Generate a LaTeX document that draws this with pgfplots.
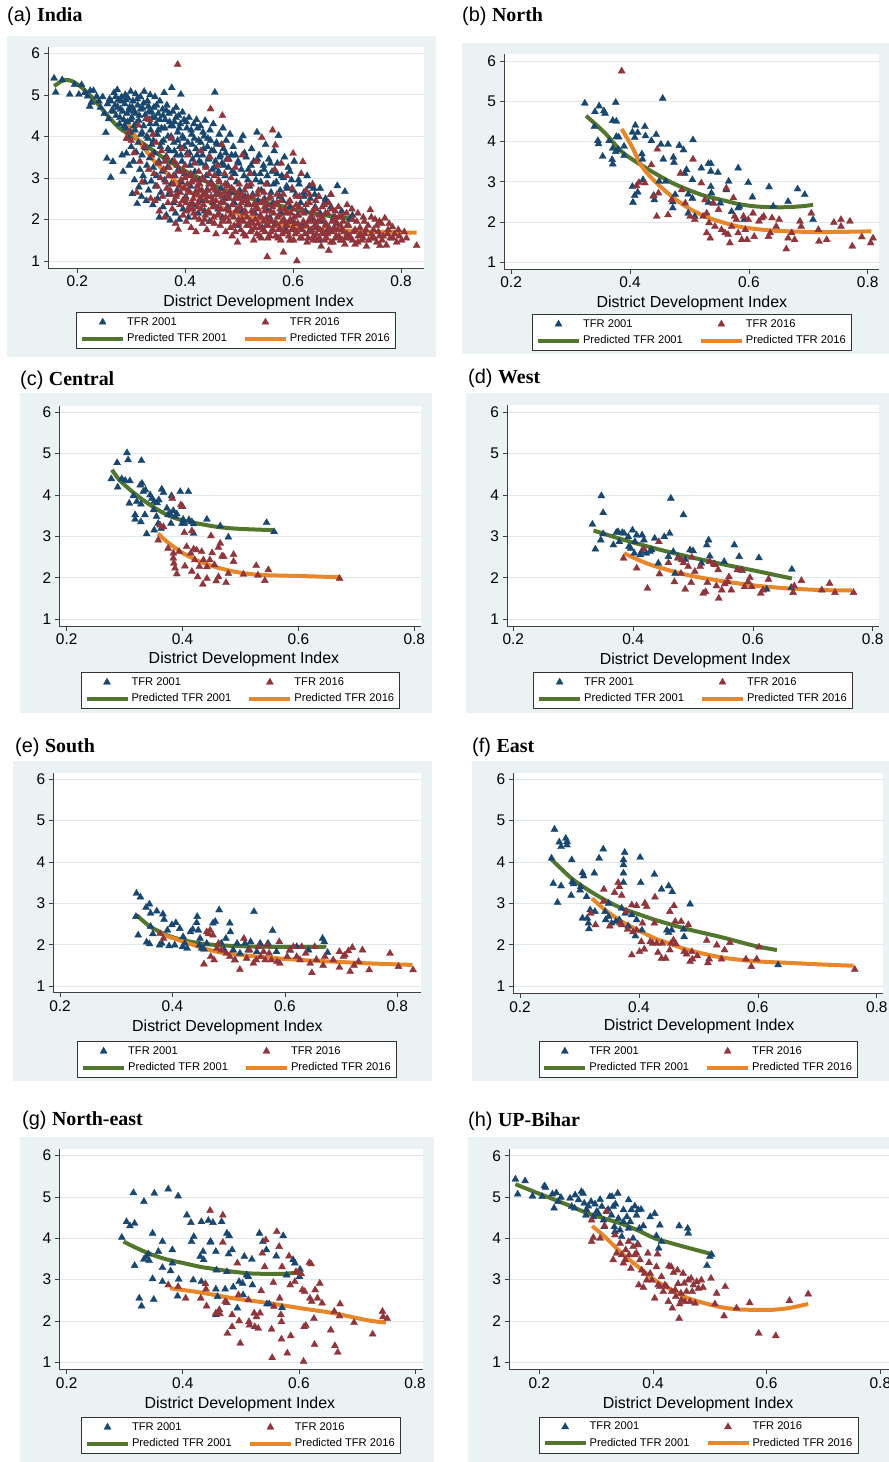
\documentclass[border=0pt]{standalone}
\usepackage{fontspec}
\setmainfont{Liberation Sans}
\newfontfamily\serifb{Liberation Serif}
\usepackage{pgfplots}
\pgfplotsset{compat=1.18}
\definecolor{bgc}{RGB}{234,242,243}
\definecolor{gridc}{RGB}{224,234,236}
\definecolor{navyc}{RGB}{26,71,111}
\definecolor{maroonc}{RGB}{144,53,59}
\definecolor{greenc}{RGB}{82,118,46}
\definecolor{orangec}{RGB}{232,134,42}
\pgfplotsset{
 panel/.style={scale only axis, anchor=south west,
  axis x line*=bottom, axis y line*=left,
  xtick={0.2,0.4,0.6,0.8}, ytick={1,2,3,4,5,6},
  /pgf/number format/assume math mode=true,
  /pgf/number format/fixed,
  ymajorgrids, grid style={gridc, line width=0.8bp},
  tick align=outside, major tick length=4.5bp,
  tick style={black!75, line width=0.6bp},
  axis line style={black!75, line width=0.8bp},
  tick label style={font=\fontsize{15.5}{17}\selectfont},
  xlabel={District Development Index},
  xlabel style={font=\fontsize{16}{18}\selectfont, anchor=base, inner sep=0pt},
  axis background/.style={fill=white},
  legend columns=2, legend cell align=left,
  legend style={font=\fontsize{11.2}{12}\selectfont, draw=black!80, line width=0.6bp, fill=white,
   inner xsep=3.5bp, inner ysep=2.8bp, anchor=north,
   /tikz/every even column/.append style={column sep=14bp},
   nodes={inner sep=2bp, text height=8bp, text depth=2.2bp}, row sep=2.2bp},
 },
 s01/.style={only marks, mark=triangle*, mark size=4.1bp, color=navyc, mark options={fill=navyc, draw=navyc, line width=0.3bp},
  legend image code/.code={\path (0bp,0bp) (41bp,0bp); \draw[mark repeat=2,mark phase=2,##1] plot coordinates {(0bp,0bp) (20.5bp,0bp) (41bp,0bp)};}},
 s16/.style={only marks, mark=triangle*, mark size=4.1bp, color=maroonc, mark options={fill=maroonc, draw=maroonc, line width=0.3bp},
  legend image code/.code={\path (0bp,0bp) (41bp,0bp); \draw[mark repeat=2,mark phase=2,##1] plot coordinates {(0bp,0bp) (20.5bp,0bp) (41bp,0bp)};}},
 p01/.style={no marks, smooth, line width=4bp, color=greenc,
  legend image code/.code={\draw[##1] (0bp,0bp) -- (41bp,0bp);}},
 p16/.style={no marks, smooth, line width=4bp, color=orangec,
  legend image code/.code={\draw[##1] (0bp,0bp) -- (41bp,0bp);}},
}
\newcommand{\ttl}[2]{{\fontsize{20}{24}\selectfont #1 {\serifb\bfseries #2}}}
\begin{document}
\begin{tikzpicture}
\useasboundingbox (0,0) rectangle (889bp,-1462bp);
\fill[white] (0,0) rectangle (889bp,-1462bp);
\fill[bgc] (7bp,-36bp) rectangle (436bp,-357bp);
\fill[bgc] (462bp,-43bp) rectangle (889bp,-354bp);
\fill[bgc] (20bp,-393bp) rectangle (432bp,-713bp);
\fill[bgc] (466bp,-393bp) rectangle (889bp,-713bp);
\fill[bgc] (13bp,-761bp) rectangle (432bp,-1081bp);
\fill[bgc] (472bp,-761bp) rectangle (889bp,-1081bp);
\fill[bgc] (20bp,-1137bp) rectangle (434bp,-1462bp);
\fill[bgc] (468bp,-1137bp) rectangle (889bp,-1462bp);
\node[anchor=base west,inner sep=0] at (7bp,-21bp) {\ttl{(a)}{India}};
\node[anchor=base west,inner sep=0] at (462bp,-21bp) {\ttl{(b)}{North}};
\node[anchor=base west,inner sep=0] at (20bp,-385bp) {\ttl{(c)}{Central}};
\node[anchor=base west,inner sep=0] at (468bp,-383bp) {\ttl{(d)}{West}};
\node[anchor=base west,inner sep=0] at (15bp,-752bp) {\ttl{(e)}{South}};
\node[anchor=base west,inner sep=0] at (472bp,-752bp) {\ttl{(f)}{East}};
\node[anchor=base west,inner sep=0] at (22bp,-1125bp) {\ttl{(g)}{North-east}};
\node[anchor=base west,inner sep=0] at (468bp,-1126bp) {\ttl{(h)}{UP-Bihar}};

% (a) India
\begin{axis}[panel, at={(48bp,-268bp)}, width=376bp, height=221bp,
 xmin=0.1457, xmax=0.8426, ymin=0.831, ymax=6.152,
 xlabel style={at={(axis description cs:0.560,-0.172)}},
 legend style={at={(axis description cs:0.5,-0.199)}}]
\addplot[s01] coordinates {
(0.157,5.40)(0.160,5.06)(0.172,5.36)(0.186,5.01)(0.195,5.25)(0.203,5.01)(0.208,5.24)(0.214,5.05)(0.219,4.97)(0.224,5.10)
(0.223,4.72)(0.226,4.82)(0.230,5.10)(0.236,4.96)(0.240,4.85)(0.243,4.70)(0.247,4.95)(0.250,4.55)(0.253,4.09)(0.255,3.47)(0.256,4.78)(0.258,4.42)(0.260,4.90)(0.262,3.01)(0.264,4.62)(0.266,3.39)
(0.268,5.05)(0.270,4.75)(0.272,4.50)(0.274,5.12)(0.276,4.88)(0.278,4.30)(0.280,4.65)(0.282,4.95)(0.283,3.55)(0.285,3.15)(0.286,4.40)(0.288,4.78)(0.289,5.00)(0.290,4.20)(0.291,3.59)(0.292,4.55)(0.294,4.92)(0.295,3.95)(0.296,3.30)(0.297,4.70)(0.298,4.10)(0.299,5.08)(0.300,3.75)
(0.301,4.45)(0.302,2.62)(0.303,4.85)(0.304,3.40)(0.305,4.60)(0.306,2.95)(0.307,4.15)(0.308,5.02)(0.309,3.62)(0.310,4.32)(0.311,2.38)(0.312,4.75)(0.313,3.85)(0.314,2.78)(0.315,4.50)(0.316,3.20)(0.317,4.95)(0.318,4.05)(0.319,2.55)(0.320,3.55)(0.321,4.68)(0.322,3.05)(0.323,4.25)(0.324,5.08)(0.325,2.90)(0.326,3.72)(0.327,4.42)(0.328,2.45)(0.329,3.30)(0.330,4.85)(0.331,3.95)(0.332,2.70)(0.333,4.60)(0.334,3.48)(0.335,5.00)(0.336,4.15)(0.337,2.92)(0.338,3.80)(0.339,4.45)(0.340,2.35)
(0.341,3.25)(0.342,4.70)(0.343,3.60)(0.344,4.95)(0.345,2.80)(0.346,4.30)(0.347,3.05)(0.348,4.05)(0.349,2.50)(0.350,4.55)(0.351,3.40)(0.352,2.05)(0.353,4.85)(0.354,3.75)(0.355,2.65)(0.356,4.20)(0.357,3.15)(0.358,4.65)(0.359,2.30)(0.360,3.90)(0.361,5.05)(0.362,2.95)(0.363,4.40)(0.364,3.50)(0.365,2.10)(0.366,4.75)(0.367,3.25)(0.368,4.00)(0.369,2.60)(0.370,4.55)(0.371,3.65)(0.372,1.98)(0.373,4.25)(0.374,2.85)(0.375,5.17)(0.376,3.40)(0.377,4.60)(0.378,2.40)(0.379,3.85)(0.380,4.35)(0.381,3.05)(0.382,2.15)(0.383,4.70)(0.384,3.55)(0.385,2.70)(0.386,4.10)(0.387,3.20)(0.388,4.50)(0.389,2.00)(0.390,3.75)(0.391,4.30)(0.392,5.01)(0.393,2.90)(0.394,3.40)(0.395,4.58)(0.396,2.25)(0.397,3.95)(0.398,4.40)(0.399,3.10)
(0.401,2.55)(0.403,4.20)(0.404,3.60)(0.406,2.05)(0.407,4.45)(0.409,3.30)(0.410,2.80)(0.412,4.05)(0.413,3.80)(0.415,2.35)(0.416,4.30)(0.418,3.15)(0.419,2.65)(0.421,4.40)(0.422,3.55)(0.424,2.15)(0.425,3.90)(0.427,2.95)(0.428,4.25)(0.430,3.35)(0.431,2.45)(0.433,4.10)(0.434,3.70)(0.436,2.20)(0.437,4.38)(0.439,3.05)(0.440,2.70)(0.442,3.95)(0.443,3.45)(0.445,1.95)(0.446,4.15)(0.448,2.90)(0.449,3.65)(0.451,2.40)(0.452,4.30)(0.454,3.25)(0.455,5.06)(0.457,2.60)(0.458,3.85)(0.460,3.10)(0.461,2.25)(0.463,4.05)(0.464,3.50)(0.466,2.75)(0.467,3.80)(0.469,2.05)(0.470,4.20)(0.472,3.30)(0.473,2.50)(0.475,3.60)(0.476,3.90)(0.478,2.85)(0.479,2.30)
(0.481,3.45)(0.483,4.05)(0.485,2.65)(0.487,3.15)(0.489,3.75)(0.491,2.40)(0.493,3.55)(0.495,2.90)(0.497,1.85)(0.499,3.35)(0.501,2.70)(0.503,3.90)(0.505,2.20)(0.507,4.01)(0.509,3.05)(0.511,2.55)(0.513,3.50)(0.515,2.35)(0.517,3.20)(0.519,2.80)(0.521,1.95)(0.523,3.70)(0.525,2.60)(0.527,3.40)(0.529,2.15)(0.531,2.95)(0.533,4.10)(0.535,2.45)(0.537,3.55)(0.539,3.10)(0.541,2.70)(0.543,1.80)(0.545,3.30)(0.547,2.50)(0.549,3.80)(0.551,2.25)(0.553,2.85)(0.555,3.45)(0.557,2.05)(0.559,2.65)(0.561,3.15)(0.563,2.40)(0.565,3.65)(0.567,1.90)(0.569,2.90)(0.571,3.35)(0.573,4.02)(0.575,2.55)(0.577,2.15)(0.579,3.05)
(0.581,2.45)(0.584,3.50)(0.586,1.75)(0.589,2.75)(0.591,3.25)(0.594,2.30)(0.597,2.95)(0.599,1.95)(0.602,3.40)(0.605,2.60)(0.608,2.10)(0.611,2.85)(0.614,2.40)(0.617,1.85)(0.620,2.65)(0.623,2.20)(0.626,3.05)(0.629,1.70)(0.632,2.50)(0.635,2.00)(0.638,2.75)(0.641,2.30)(0.644,1.80)(0.647,2.55)(0.650,2.15)(0.655,1.95)(0.660,2.45)(0.665,1.75)(0.670,2.30)(0.675,2.05)(0.680,1.90)(0.682,2.81)(0.690,2.20)(0.696,2.67)(0.705,2.00)(0.710,2.10)(0.648,1.50)
(0.262,4.85)(0.267,4.60)(0.271,4.95)(0.275,4.70)(0.279,4.45)(0.281,4.85)(0.284,4.60)(0.287,4.25)(0.290,4.88)(0.293,4.35)(0.296,4.62)(0.299,4.40)(0.302,4.70)(0.305,4.25)(0.308,4.55)(0.311,4.90)(0.314,4.38)(0.317,4.65)(0.320,4.10)(0.323,4.80)(0.326,4.52)(0.329,4.00)(0.332,4.72)(0.335,4.30)(0.338,4.58)(0.341,3.90)(0.344,4.45)(0.347,4.75)(0.350,4.15)(0.353,4.40)(0.356,3.85)(0.359,4.50)(0.362,4.20)(0.365,4.62)(0.368,3.70)(0.371,4.35)(0.374,4.00)(0.377,4.25)(0.380,3.65)(0.383,4.45)(0.386,3.90)(0.389,4.20)(0.392,3.55)(0.395,4.00)(0.398,3.75)(0.402,4.35)(0.405,3.85)(0.408,3.60)(0.411,4.15)(0.414,3.45)(0.417,3.95)(0.420,3.70)(0.423,4.20)(0.426,3.40)(0.429,3.85)(0.432,3.55)(0.435,4.00)(0.438,3.30)(0.441,3.75)(0.444,3.50)(0.447,3.90)(0.450,3.20)(0.453,3.65)(0.456,3.40)(0.459,3.80)(0.462,3.15)(0.465,3.55)(0.468,3.35)(0.471,3.70)(0.474,3.05)(0.477,3.45)(0.480,3.25)(0.486,3.55)(0.492,3.10)(0.498,3.40)(0.504,3.20)(0.510,3.60)(0.516,2.95)(0.522,3.30)(0.528,3.10)(0.534,3.45)(0.540,2.90)(0.546,3.20)(0.552,3.05)(0.558,3.35)(0.564,2.85)(0.570,3.10)(0.576,2.70)(0.582,3.00)(0.588,2.80)(0.594,3.15)(0.600,2.70)(0.610,2.95)(0.620,2.55)(0.630,2.80)(0.640,2.60)(0.650,2.75)(0.660,2.50)(0.670,2.60)
};
\addplot[s16] coordinates {
(0.291,3.95)(0.295,4.10)(0.300,3.90)(0.305,3.60)(0.310,2.65)(0.313,4.27)(0.316,3.40)(0.320,2.90)(0.324,3.75)(0.329,4.43)(0.332,3.20)(0.334,4.40)(0.336,2.50)(0.338,3.55)(0.340,4.05)
(0.342,3.10)(0.344,2.45)(0.346,3.85)(0.348,2.80)(0.350,3.35)(0.352,2.20)(0.354,3.00)(0.356,3.65)(0.358,2.55)(0.360,3.20)(0.362,2.05)(0.364,2.90)(0.366,3.50)(0.368,2.40)(0.370,3.05)(0.372,2.70)(0.374,3.95)(0.376,2.25)(0.378,2.85)(0.380,3.40)(0.382,1.90)(0.384,2.60)(0.386,5.73)(0.387,1.76)(0.388,3.15)(0.390,2.35)(0.392,2.95)(0.394,3.70)(0.396,2.10)(0.398,2.75)(0.400,3.30)
(0.401,2.50)(0.402,1.95)(0.404,2.85)(0.405,3.55)(0.407,2.25)(0.408,2.65)(0.410,3.10)(0.411,1.80)(0.413,2.40)(0.414,2.95)(0.416,2.15)(0.417,3.35)(0.419,2.60)(0.420,1.70)(0.422,2.80)(0.423,2.30)(0.425,3.15)(0.426,2.00)(0.428,2.50)(0.429,3.65)(0.431,2.70)(0.432,1.90)(0.434,2.35)(0.435,2.95)(0.437,2.10)(0.438,3.25)(0.440,1.75)(0.441,2.55)(0.443,2.20)(0.444,2.85)(0.446,3.50)(0.447,4.66)(0.448,1.95)(0.450,2.45)(0.451,2.75)(0.453,2.05)(0.454,3.05)(0.456,2.30)(0.457,1.65)(0.459,2.60)(0.460,3.30)(0.462,2.15)(0.463,2.90)(0.465,1.85)(0.466,2.40)(0.468,3.80)(0.469,4.50)(0.470,2.00)(0.472,2.65)(0.473,3.10)(0.475,1.70)(0.476,2.25)(0.478,2.80)(0.479,3.45)(0.481,1.95)(0.482,2.50)(0.484,2.10)(0.485,3.00)(0.487,1.60)(0.488,2.35)(0.490,2.70)(0.491,1.85)(0.493,3.25)(0.494,2.20)(0.496,2.55)(0.497,1.45)(0.499,2.00)(0.500,2.85)
(0.502,2.30)(0.503,1.75)(0.505,2.60)(0.506,3.55)(0.508,1.95)(0.509,2.15)(0.511,2.45)(0.512,1.60)(0.514,2.80)(0.515,2.05)(0.517,1.85)(0.518,2.35)(0.520,3.10)(0.521,1.70)(0.523,2.20)(0.524,2.55)(0.526,1.90)(0.527,1.50)(0.529,2.40)(0.530,2.00)(0.532,3.40)(0.533,1.65)(0.535,2.25)(0.536,2.70)(0.538,1.80)(0.539,2.10)(0.541,1.55)(0.542,3.97)(0.544,2.45)(0.545,1.95)(0.547,2.30)(0.548,1.70)(0.550,2.85)(0.551,2.05)(0.552,1.10)(0.554,1.85)(0.555,2.50)(0.557,1.60)(0.558,2.20)(0.560,1.95)(0.562,4.15)(0.563,1.75)(0.565,2.35)(0.566,3.20)(0.567,3.79)(0.569,1.90)(0.570,2.60)(0.572,1.55)(0.574,2.10)(0.575,1.80)(0.577,2.45)(0.578,3.35)(0.580,1.65)(0.582,1.21)(0.583,2.00)(0.585,2.25)(0.586,1.85)(0.588,3.05)(0.590,1.70)(0.591,2.40)(0.593,1.95)(0.594,1.50)(0.596,2.15)(0.598,2.75)(0.600,3.59)(0.600,1.80)
(0.602,2.05)(0.604,1.65)(0.606,2.55)(0.607,1.00)(0.609,1.90)(0.611,2.30)(0.613,1.55)(0.615,3.10)(0.617,1.75)(0.618,3.39)(0.620,2.15)(0.622,1.85)(0.624,2.70)(0.626,1.45)(0.628,1.95)(0.630,2.40)(0.632,1.70)(0.634,2.10)(0.636,2.85)(0.638,1.60)(0.640,1.85)(0.642,2.25)(0.644,1.50)(0.646,1.95)(0.648,2.55)(0.650,1.75)(0.652,1.35)(0.654,2.05)(0.656,1.65)(0.658,2.35)(0.660,1.85)(0.662,1.55)(0.664,2.15)(0.666,1.25)(0.668,1.70)(0.670,2.60)(0.672,1.95)(0.674,1.45)(0.676,1.80)(0.678,2.20)(0.680,1.60)(0.682,1.90)(0.685,2.05)(0.688,1.50)(0.690,1.75)(0.693,1.95)(0.696,1.40)(0.699,2.15)(0.700,1.65)
(0.703,1.85)(0.706,1.55)(0.709,2.25)(0.712,1.70)(0.715,1.40)(0.718,1.95)(0.721,1.60)(0.724,1.80)(0.727,1.50)(0.730,2.05)(0.733,1.65)(0.736,1.35)(0.739,1.85)(0.743,2.23)(0.746,1.55)(0.749,1.75)(0.752,2.00)(0.755,1.45)(0.758,1.70)(0.761,1.37)(0.764,1.90)(0.767,1.60)(0.770,2.03)(0.773,1.38)(0.776,1.75)(0.780,1.55)(0.784,1.82)(0.788,1.65)(0.792,1.45)(0.797,1.60)(0.801,1.50)(0.806,1.70)(0.829,1.37)
(0.383,2.55)(0.389,2.80)(0.395,2.45)(0.399,3.00)(0.403,2.20)(0.406,2.70)(0.409,2.35)(0.412,2.90)(0.415,2.50)(0.418,2.05)(0.421,2.65)(0.424,2.40)(0.427,2.85)(0.430,2.25)(0.433,2.60)(0.436,2.00)(0.439,2.45)(0.442,2.70)(0.445,2.15)(0.448,2.55)(0.451,2.30)(0.454,1.90)(0.457,2.45)(0.460,2.10)(0.463,2.65)(0.466,2.25)(0.469,1.95)(0.472,2.40)(0.475,2.05)(0.478,2.55)(0.481,2.20)(0.484,1.80)(0.487,2.35)(0.490,2.05)(0.493,1.70)(0.496,2.25)(0.499,1.90)(0.502,2.50)(0.505,2.00)(0.508,1.65)(0.511,2.20)(0.514,1.85)(0.517,2.40)(0.520,1.95)(0.523,1.75)(0.526,2.15)(0.529,1.80)(0.532,2.30)(0.535,1.90)(0.538,1.60)(0.541,2.05)(0.544,1.75)(0.547,2.20)(0.550,1.85)(0.553,1.55)(0.556,2.00)(0.559,1.70)(0.562,2.30)(0.565,1.85)(0.568,1.60)(0.571,2.05)(0.574,1.75)(0.577,1.50)(0.580,1.95)(0.583,1.70)(0.586,2.15)(0.589,1.85)(0.592,1.60)(0.595,2.00)(0.598,1.75)(0.601,1.50)(0.604,1.90)(0.607,1.70)(0.610,2.10)(0.613,1.80)(0.616,1.55)(0.619,1.95)(0.622,1.65)(0.625,1.85)(0.628,1.55)(0.631,2.00)(0.634,1.75)(0.637,1.50)(0.640,1.95)(0.643,1.65)(0.646,1.80)(0.649,1.55)(0.652,2.00)(0.655,1.70)(0.658,1.50)(0.661,1.90)(0.664,1.65)(0.667,1.80)(0.670,1.45)(0.673,1.70)(0.676,2.00)(0.679,1.55)(0.682,1.75)(0.685,1.60)(0.688,1.85)(0.691,1.50)(0.694,1.70)(0.697,1.55)(0.700,1.85)(0.705,1.60)(0.710,1.50)(0.715,1.75)(0.720,1.45)(0.725,1.65)(0.730,1.55)(0.735,1.75)(0.740,1.50)(0.745,1.65)(0.750,1.55)(0.755,1.85)(0.760,1.60)(0.765,1.50)(0.775,1.65)(0.785,1.55)(0.795,1.75)(0.810,1.55)
(0.362,3.40)(0.366,2.75)(0.370,3.25)(0.374,2.60)(0.378,3.05)(0.381,2.45)(0.385,3.30)(0.391,2.65)(0.397,3.15)(0.402,2.40)(0.408,3.05)(0.414,2.25)(0.420,2.95)(0.426,2.70)(0.432,3.00)(0.438,2.60)(0.444,3.10)(0.450,2.85)(0.456,2.70)(0.462,2.95)(0.468,2.55)(0.474,2.85)(0.480,2.60)(0.486,2.75)(0.492,2.50)(0.498,2.65)(0.504,2.40)(0.510,2.70)(0.516,2.55)(0.522,2.85)(0.528,2.35)(0.534,2.60)(0.540,2.40)(0.546,2.65)(0.552,2.35)(0.558,2.55)(0.564,2.15)(0.570,2.40)(0.576,2.25)(0.582,2.60)(0.588,2.20)(0.594,2.45)(0.600,2.25)(0.606,2.35)(0.612,2.55)(0.618,2.20)(0.624,2.35)(0.630,2.60)(0.636,2.20)(0.642,2.45)(0.648,2.10)(0.654,2.30)(0.660,2.15)(0.666,2.40)(0.672,2.25)(0.678,2.05)(0.684,2.30)(0.690,2.10)(0.700,2.35)(0.710,2.00)(0.720,2.15)(0.732,1.95)(0.745,2.05)(0.760,1.95)(0.778,1.90)
};
\addplot[p01] coordinates {(0.157,5.21)(0.171,5.33)(0.180,5.36)(0.190,5.33)(0.205,5.21)(0.223,5.00)(0.242,4.72)(0.261,4.43)(0.279,4.19)(0.304,3.99)(0.335,3.71)(0.366,3.43)(0.397,3.19)(0.427,2.99)(0.458,2.79)(0.489,2.63)(0.520,2.51)(0.551,2.40)(0.582,2.31)(0.613,2.21)(0.644,2.13)(0.675,2.07)(0.709,2.02)};
\addplot[p16] coordinates {(0.290,4.38)(0.304,4.07)(0.322,3.75)(0.341,3.43)(0.366,3.11)(0.397,2.77)(0.427,2.53)(0.458,2.33)(0.489,2.17)(0.520,2.05)(0.551,1.97)(0.582,1.89)(0.613,1.83)(0.644,1.78)(0.675,1.75)(0.736,1.71)(0.829,1.68)};
\legend{TFR 2001, TFR 2016, Predicted TFR 2001, Predicted TFR 2016}
\end{axis}

% (b) North
\begin{axis}[panel, at={(504bp,-269bp)}, width=375bp, height=215bp,
 xmin=0.188, xmax=0.819, ymin=0.834, ymax=6.174,
 xlabel style={at={(axis description cs:0.501,-0.181)}},
 legend style={at={(axis description cs:0.501,-0.209)}}]
\addplot[s01] coordinates {
(0.324,4.95)(0.341,4.74)(0.348,4.88)(0.356,4.76)(0.358,4.70)(0.376,4.97)(0.340,4.37)(0.371,4.52)(0.377,4.50)(0.346,4.02)(0.347,3.94)(0.354,3.63)(0.365,4.02)(0.371,3.83)(0.371,3.44)(0.370,3.55)(0.377,4.12)(0.381,4.11)(0.376,3.75)(0.380,3.80)(0.390,3.65)(0.390,3.88)
(0.404,4.23)(0.409,4.40)(0.413,4.22)(0.425,4.37)(0.426,4.14)(0.408,4.10)(0.436,4.02)(0.444,4.17)(0.452,3.93)(0.464,3.93)(0.456,3.56)(0.473,3.61)(0.474,3.48)(0.483,3.90)(0.490,3.79)(0.506,4.04)(0.455,5.07)
(0.404,2.88)(0.405,2.49)(0.408,2.66)(0.413,2.74)(0.422,3.05)(0.420,3.69)(0.421,3.56)(0.441,2.55)(0.440,2.66)(0.449,3.01)(0.460,3.01)(0.472,2.50)(0.472,2.35)(0.476,2.68)(0.492,3.21)(0.495,3.30)(0.505,3.05)(0.505,2.59)(0.498,2.69)(0.509,2.14)
(0.520,3.34)(0.532,3.45)(0.536,3.45)(0.536,3.26)(0.548,3.23)(0.536,2.88)(0.537,2.72)(0.540,2.47)(0.532,2.49)(0.552,2.47)(0.566,3.01)(0.562,2.80)(0.582,3.34)(0.584,2.39)(0.599,2.98)(0.606,2.62)(0.592,2.06)(0.634,2.87)(0.641,2.39)(0.666,2.51)(0.682,2.82)(0.694,2.68)(0.708,2.06)(0.571,2.26)(0.582,2.35)(0.498,2.22)
};
\addplot[s16] coordinates {
(0.386,5.75)(0.446,3.81)(0.506,3.56)(0.425,2.97)(0.415,2.98)(0.411,2.90)(0.439,2.64)(0.448,2.72)(0.445,2.14)(0.464,2.18)(0.436,3.42)(0.470,2.55)(0.485,3.21)(0.487,2.80)(0.493,2.47)(0.501,2.14)(0.509,2.06)(0.520,2.97)(0.523,2.14)(0.526,2.55)(0.529,2.22)(0.529,1.73)(0.533,1.98)(0.535,1.60)(0.540,2.47)(0.543,1.89)(0.549,2.31)(0.554,1.81)(0.560,1.73)(0.562,2.84)(0.565,1.69)(0.568,1.48)(0.571,1.89)(0.574,2.60)(0.576,2.14)(0.579,2.06)(0.582,1.73)(0.588,1.56)(0.591,2.14)(0.594,1.81)(0.597,1.56)(0.599,2.06)(0.607,2.22)(0.609,1.64)(0.617,2.02)(0.622,2.10)(0.625,2.14)(0.633,1.64)(0.636,1.73)(0.639,2.10)(0.646,1.89)(0.651,2.06)(0.663,1.33)(0.666,1.60)(0.672,1.73)(0.677,1.56)(0.686,2.02)(0.688,1.89)(0.705,2.22)(0.717,1.81)(0.718,1.52)(0.731,1.56)(0.743,1.99)(0.755,2.06)(0.755,1.89)(0.770,2.02)(0.774,1.40)(0.790,1.63)(0.805,1.48)(0.809,1.60)
};
\addplot[p01] coordinates {(0.326,4.64)(0.358,4.21)(0.386,3.75)(0.414,3.46)(0.442,3.21)(0.470,2.98)(0.498,2.80)(0.526,2.65)(0.554,2.55)(0.582,2.45)(0.610,2.39)(0.638,2.37)(0.666,2.37)(0.694,2.40)(0.708,2.43)};
\addplot[p16] coordinates {(0.386,4.31)(0.403,3.88)(0.420,3.38)(0.442,3.01)(0.470,2.64)(0.498,2.35)(0.526,2.14)(0.554,2.00)(0.582,1.89)(0.610,1.83)(0.638,1.79)(0.666,1.77)(0.722,1.75)(0.806,1.77)};
\legend{TFR 2001, TFR 2016, Predicted TFR 2001, Predicted TFR 2016}
\end{axis}

% (c) Central
\begin{axis}[panel, at={(59.3bp,-626bp)}, width=361.4bp, height=220.3bp,
 xmin=0.1872, xmax=0.811, ymin=0.831, ymax=6.16,
 xlabel style={at={(axis description cs:0.511,-0.168)}},
 legend style={at={(axis description cs:0.501,-0.209)}}]
\addplot[s01] coordinates {
(0.277,4.39)(0.287,4.78)(0.288,4.19)(0.304,5.02)(0.306,4.85)(0.329,4.83)(0.295,4.39)(0.301,4.35)(0.309,4.34)(0.308,3.80)(0.315,3.98)(0.318,3.52)(0.318,3.41)(0.321,3.84)(0.327,4.24)(0.330,4.28)(0.328,3.78)(0.328,3.35)(0.332,4.08)(0.336,4.12)(0.335,3.52)(0.338,3.06)(0.344,4.00)(0.347,3.92)(0.351,3.84)(0.350,3.64)(0.355,3.48)(0.356,3.81)(0.359,3.88)(0.364,4.14)(0.367,4.06)(0.358,3.31)(0.363,3.19)(0.351,3.15)(0.373,3.68)(0.375,3.52)(0.378,3.56)(0.380,3.31)(0.381,3.98)(0.384,3.62)(0.387,3.48)(0.396,4.08)(0.399,3.72)(0.399,3.31)(0.401,3.41)(0.403,3.31)(0.410,4.08)(0.411,3.40)(0.416,3.35)(0.419,3.30)(0.419,3.07)(0.442,3.41)(0.465,3.25)(0.479,2.98)(0.545,3.33)(0.558,3.11)(0.390,3.54)
};
\addplot[s16] coordinates {
(0.382,3.92)(0.397,3.76)(0.400,3.72)(0.358,2.91)(0.361,3.27)(0.367,3.23)(0.375,2.71)(0.384,2.59)(0.385,2.35)(0.387,2.23)(0.390,2.09)(0.384,2.47)(0.394,2.63)(0.403,3.09)(0.404,2.28)(0.407,2.75)(0.414,2.59)(0.416,3.13)(0.419,2.69)(0.421,2.43)(0.416,2.15)(0.424,2.67)(0.426,2.02)(0.429,2.27)(0.433,2.63)(0.435,1.84)(0.436,2.43)(0.442,1.98)(0.447,2.43)(0.449,3.01)(0.451,2.60)(0.455,2.31)(0.458,1.92)(0.462,2.02)(0.462,2.73)(0.465,2.83)(0.468,2.52)(0.471,2.51)(0.475,1.88)(0.479,2.10)(0.488,2.56)(0.488,2.39)(0.505,2.08)(0.527,2.29)(0.530,2.06)(0.542,1.93)(0.548,2.19)(0.671,1.98)(0.442,2.26)
};
\addplot[p01] coordinates {(0.278,4.61)(0.292,4.35)(0.315,4.06)(0.344,3.76)(0.373,3.52)(0.401,3.38)(0.430,3.30)(0.459,3.23)(0.488,3.19)(0.516,3.17)(0.557,3.15)};
\addplot[p16] coordinates {(0.358,3.07)(0.373,2.87)(0.401,2.59)(0.430,2.39)(0.459,2.25)(0.488,2.15)(0.516,2.09)(0.545,2.06)(0.603,2.04)(0.671,2.01)};
\legend{TFR 2001, TFR 2016, Predicted TFR 2001, Predicted TFR 2016}
\end{axis}

% (d) West
\begin{axis}[panel, at={(507bp,-626bp)}, width=372.3bp, height=221bp,
 xmin=0.1895, xmax=0.811, ymin=0.831, ymax=6.177,
 xlabel style={at={(axis description cs:0.505,-0.176)}},
 legend style={at={(axis description cs:0.4996,-0.208)}}]
\addplot[s01] coordinates {
(0.332,3.29)(0.337,2.69)(0.346,2.91)(0.347,3.98)(0.350,3.57)(0.350,3.06)(0.367,2.79)(0.372,3.09)(0.375,3.11)(0.377,2.87)(0.382,3.09)(0.385,3.07)(0.392,2.99)(0.393,2.75)(0.396,2.71)(0.399,3.15)(0.403,2.87)(0.402,2.59)(0.406,3.03)(0.412,2.55)(0.415,3.03)(0.418,2.91)(0.422,2.59)(0.428,2.63)(0.431,2.67)(0.436,2.95)(0.442,2.35)(0.452,2.99)(0.459,2.51)(0.461,3.07)(0.463,3.92)(0.467,2.63)(0.470,2.10)(0.475,2.49)(0.484,3.52)(0.487,2.44)(0.495,2.67)(0.500,2.65)(0.514,2.35)(0.523,2.79)(0.526,2.91)(0.528,2.52)(0.536,2.33)(0.552,2.39)(0.569,2.79)(0.577,2.51)(0.582,2.17)(0.610,2.48)(0.623,1.72)(0.665,2.20)(0.664,1.76)(0.414,2.63)
};
\addplot[s16] coordinates {
(0.384,2.47)(0.406,2.23)(0.418,2.69)(0.424,1.74)(0.443,2.87)(0.444,2.09)(0.459,2.36)(0.469,1.90)(0.475,2.47)(0.481,2.43)(0.484,2.36)(0.480,2.10)(0.487,1.72)(0.492,2.27)(0.498,2.49)(0.497,1.88)(0.503,2.15)(0.512,2.27)(0.517,1.62)(0.521,1.66)(0.524,1.88)(0.528,2.39)(0.534,2.33)(0.537,2.31)(0.539,1.80)(0.542,2.19)(0.543,1.50)(0.548,1.70)(0.553,1.85)(0.558,1.90)(0.560,2.02)(0.564,1.70)(0.574,2.19)(0.581,2.19)(0.586,1.78)(0.592,1.90)(0.595,2.00)(0.598,1.78)(0.613,1.62)(0.617,1.70)(0.626,1.96)(0.667,1.64)(0.669,1.80)(0.681,1.93)(0.728,1.86)(0.737,1.64)(0.768,1.64)(0.715,1.70)
};
\addplot[p01] coordinates {(0.334,3.14)(0.381,2.93)(0.436,2.71)(0.492,2.51)(0.548,2.33)(0.603,2.17)(0.665,1.98)};
\addplot[p16] coordinates {(0.385,2.59)(0.409,2.43)(0.436,2.28)(0.492,2.06)(0.548,1.92)(0.603,1.81)(0.659,1.74)(0.715,1.70)(0.765,1.69)};
\legend{TFR 2001, TFR 2016, Predicted TFR 2001, Predicted TFR 2016}
\end{axis}

% (e) South
\begin{axis}[panel, at={(53.3bp,-992.7bp)}, width=367.4bp, height=220bp,
 xmin=0.188, xmax=0.8416, ymin=0.838, ymax=6.16,
 xlabel style={at={(axis description cs:0.474,-0.177)}},
 legend style={at={(axis description cs:0.5,-0.2195)}}]
\addplot[s01] coordinates {
(0.336,3.24)(0.343,3.15)(0.335,2.68)(0.339,2.23)(0.353,2.90)(0.359,2.98)(0.361,2.76)(0.361,2.44)(0.354,2.06)(0.359,2.02)(0.365,2.26)(0.372,2.81)(0.377,1.99)(0.381,2.03)(0.383,2.74)(0.385,2.61)(0.391,2.35)(0.394,1.97)(0.399,2.48)(0.406,2.53)(0.404,1.99)(0.413,2.39)(0.418,1.95)(0.422,2.03)(0.426,1.91)(0.432,2.31)(0.436,2.37)(0.443,2.53)(0.444,2.68)(0.446,2.35)(0.448,1.99)(0.452,1.91)(0.456,1.89)(0.461,2.03)(0.472,2.52)(0.476,2.56)(0.483,2.84)(0.487,2.03)(0.492,1.87)(0.495,2.15)(0.502,2.52)(0.503,2.31)(0.508,1.87)(0.511,1.63)(0.515,2.03)(0.520,1.79)(0.529,2.03)(0.535,1.87)(0.539,2.07)(0.545,2.80)(0.550,1.83)(0.556,2.03)(0.570,2.03)(0.578,2.34)(0.585,1.83)(0.609,1.87)(0.621,1.95)(0.642,1.87)(0.667,2.15)(0.670,2.07)(0.676,1.81)(0.419,2.19)(0.449,2.15)
};
\addplot[s16] coordinates {
(0.378,2.27)(0.384,2.15)(0.456,1.53)(0.461,2.31)(0.464,2.26)(0.467,2.35)(0.472,2.23)(0.468,1.71)(0.474,1.63)(0.479,1.91)(0.482,2.03)(0.487,1.87)(0.496,1.79)(0.502,1.71)(0.511,1.63)(0.520,1.40)(0.527,2.15)(0.532,1.67)(0.537,1.87)(0.544,1.55)(0.549,1.63)(0.553,1.95)(0.557,1.71)(0.562,1.83)(0.565,1.63)(0.568,1.99)(0.572,1.79)(0.576,1.63)(0.586,1.59)(0.590,2.07)(0.591,1.55)(0.604,1.71)(0.609,1.87)(0.615,1.95)(0.621,1.71)(0.627,1.63)(0.630,1.95)(0.637,1.79)(0.645,1.55)(0.648,1.32)(0.653,1.95)(0.656,1.64)(0.668,1.50)(0.671,1.71)(0.697,1.83)(0.697,1.45)(0.704,1.71)(0.707,1.75)(0.713,1.85)(0.716,1.35)(0.720,1.93)(0.723,1.50)(0.731,1.59)(0.738,1.87)(0.750,1.39)(0.787,1.79)(0.802,1.47)(0.828,1.39)(0.686,1.63)
};
\addplot[p01] coordinates {(0.336,2.72)(0.360,2.44)(0.390,2.23)(0.419,2.11)(0.449,2.03)(0.479,1.99)(0.508,1.97)(0.568,1.95)(0.674,1.95)};
\addplot[p16] coordinates {(0.379,2.26)(0.407,2.13)(0.449,1.94)(0.479,1.83)(0.508,1.77)(0.568,1.69)(0.627,1.63)(0.686,1.59)(0.745,1.55)(0.827,1.51)};
\legend{TFR 2001, TFR 2016, Predicted TFR 2001, Predicted TFR 2016}
\end{axis}

% (f) East
\begin{axis}[panel, at={(513.3bp,-993.3bp)}, width=369.4bp, height=220bp,
 xmin=0.1887, xmax=0.810, ymin=0.823, ymax=6.145,
 xlabel style={at={(axis description cs:0.503,-0.170)}},
 legend style={at={(axis description cs:0.5005,-0.217)}}]
\addplot[s01] coordinates {
(0.258,4.79)(0.266,4.48)(0.269,4.37)(0.277,4.57)(0.279,4.49)(0.279,4.41)(0.253,4.09)(0.256,3.48)(0.263,3.02)(0.269,3.42)(0.286,3.19)(0.287,4.05)(0.288,3.52)(0.290,3.47)(0.301,3.32)(0.302,3.40)(0.305,3.74)(0.307,3.66)(0.305,2.64)(0.313,2.64)(0.315,2.52)(0.316,2.38)(0.312,3.16)(0.318,2.84)(0.325,3.73)(0.326,2.80)(0.333,4.09)(0.340,4.31)(0.343,2.80)(0.344,2.60)(0.349,3.00)(0.354,2.52)(0.361,2.56)(0.367,2.60)(0.371,2.88)(0.374,4.05)(0.374,3.93)(0.374,3.73)(0.376,4.23)(0.374,3.50)(0.377,2.76)(0.382,2.45)(0.388,2.72)(0.394,2.21)(0.396,2.60)(0.402,4.11)(0.403,3.50)(0.405,2.35)(0.426,3.70)(0.438,3.34)(0.450,3.42)(0.447,2.35)(0.450,2.29)(0.456,3.28)(0.455,2.35)(0.475,2.37)(0.476,2.19)(0.486,2.98)(0.634,1.51)(0.349,2.68)
};
\addplot[s16] coordinates {
(0.341,3.34)(0.365,3.50)(0.367,3.40)(0.371,3.19)(0.359,3.26)(0.319,2.76)(0.327,2.48)(0.340,3.04)(0.351,2.45)(0.368,2.52)(0.371,2.48)(0.379,2.81)(0.381,2.37)(0.388,2.96)(0.390,2.31)(0.388,1.75)(0.396,2.94)(0.396,2.35)(0.401,1.83)(0.404,2.07)(0.406,2.52)(0.409,1.89)(0.410,3.00)(0.413,2.92)(0.419,2.07)(0.423,2.03)(0.426,2.52)(0.427,3.15)(0.430,2.03)(0.432,1.81)(0.438,1.67)(0.439,2.03)(0.445,1.67)(0.452,2.80)(0.452,1.87)(0.454,2.03)(0.458,2.11)(0.459,2.94)(0.461,2.56)(0.462,2.02)(0.471,2.56)(0.476,1.83)(0.480,1.77)(0.486,1.59)(0.489,1.83)(0.490,1.65)(0.498,1.73)(0.514,2.10)(0.516,1.56)(0.518,1.65)(0.531,1.99)(0.539,1.65)(0.544,1.87)(0.553,2.05)(0.580,1.65)(0.589,1.47)(0.598,1.65)(0.602,1.94)(0.763,1.40)(0.483,2.48)
};
\addplot[p01] coordinates {(0.253,4.06)(0.287,3.60)(0.315,3.32)(0.343,3.08)(0.371,2.88)(0.399,2.74)(0.427,2.60)(0.483,2.37)(0.539,2.18)(0.595,1.97)(0.632,1.87)};
\addplot[p16] coordinates {(0.321,3.12)(0.343,2.84)(0.371,2.56)(0.399,2.35)(0.427,2.15)(0.455,2.01)(0.483,1.87)(0.539,1.69)(0.595,1.60)(0.651,1.56)(0.708,1.52)(0.761,1.49)};
\legend{TFR 2001, TFR 2016, Predicted TFR 2001, Predicted TFR 2016}
\end{axis}

% (g) North-east
\begin{axis}[panel, at={(59.3bp,-1369.3bp)}, width=363.4bp, height=220.3bp,
 xmin=0.1873, xmax=0.8133, ymin=0.83, ymax=6.16,
 xlabel style={at={(axis description cs:0.497,-0.176)}},
 legend style={at={(axis description cs:0.4997,-0.2165)}}]
\addplot[s01] coordinates {
(0.295,4.02)(0.309,4.30)(0.317,4.36)(0.315,5.10)(0.333,4.89)(0.351,5.09)(0.375,5.19)(0.392,5.02)(0.317,3.34)(0.325,2.55)(0.329,2.36)(0.333,3.49)(0.337,3.56)(0.341,3.62)(0.342,3.46)(0.348,4.12)(0.348,3.02)(0.350,2.52)(0.358,3.68)(0.365,3.92)(0.365,3.29)(0.365,2.95)(0.382,3.72)(0.382,3.40)(0.379,3.21)(0.391,2.60)(0.393,3.01)(0.407,4.56)(0.414,4.38)(0.415,3.92)(0.419,4.04)(0.418,2.99)(0.430,3.56)(0.432,4.40)(0.432,2.95)(0.435,3.68)(0.436,3.48)(0.444,4.43)(0.447,3.90)(0.448,3.92)(0.452,4.38)(0.457,3.68)(0.457,2.77)(0.458,3.23)(0.460,2.59)(0.457,2.15)(0.467,4.40)(0.476,4.12)(0.480,4.06)(0.476,3.19)(0.473,2.77)(0.479,3.62)(0.485,3.72)(0.487,2.82)(0.494,2.31)(0.497,2.95)(0.503,2.91)(0.504,2.63)(0.506,3.56)(0.510,3.11)(0.513,3.07)(0.519,3.49)(0.520,2.87)(0.532,4.12)(0.538,3.92)(0.544,3.72)(0.545,2.41)(0.549,2.41)(0.561,3.57)(0.571,2.32)(0.573,4.06)(0.579,3.11)(0.590,3.48)(0.593,3.40)(0.601,3.07)(0.602,3.25)(0.303,4.40)
};
\addplot[s16] coordinates {
(0.375,2.87)(0.392,2.83)(0.405,2.55)(0.431,2.55)(0.439,2.90)(0.440,2.77)(0.441,2.36)(0.447,4.67)(0.457,2.19)(0.463,2.27)(0.464,2.17)(0.469,4.56)(0.469,3.90)(0.473,2.47)(0.476,2.44)(0.477,1.70)(0.485,1.86)(0.485,2.15)(0.494,3.40)(0.497,2.00)(0.499,1.46)(0.496,2.63)(0.513,2.51)(0.514,1.98)(0.515,1.90)(0.523,2.19)(0.524,1.86)(0.527,2.10)(0.530,1.82)(0.533,2.19)(0.535,2.73)(0.537,3.64)(0.541,3.31)(0.543,3.96)(0.553,1.80)(0.554,1.11)(0.556,2.93)(0.557,2.35)(0.562,4.16)(0.566,3.80)(0.567,2.55)(0.569,2.15)(0.570,1.98)(0.570,1.56)(0.571,3.31)(0.580,1.22)(0.583,3.57)(0.585,2.87)(0.586,1.64)(0.593,2.95)(0.595,3.19)(0.599,3.17)(0.604,3.14)(0.606,2.75)(0.608,1.02)(0.609,1.86)(0.612,1.89)(0.610,2.71)(0.618,3.41)(0.621,3.38)(0.619,2.55)(0.622,2.47)(0.626,2.06)(0.627,1.43)(0.628,2.75)(0.632,2.55)(0.636,2.91)(0.640,2.43)(0.655,1.78)(0.661,2.23)(0.662,1.40)(0.667,1.24)(0.670,2.12)(0.671,2.41)(0.695,1.96)(0.727,1.68)(0.744,2.23)(0.745,2.10)(0.752,2.06)
};
\addplot[p01] coordinates {(0.298,3.92)(0.315,3.80)(0.344,3.62)(0.372,3.49)(0.401,3.40)(0.430,3.31)(0.458,3.25)(0.487,3.19)(0.516,3.15)(0.544,3.14)(0.573,3.14)(0.599,3.17)};
\addplot[p16] coordinates {(0.378,2.79)(0.430,2.69)(0.487,2.55)(0.544,2.44)(0.602,2.31)(0.659,2.19)(0.717,2.02)(0.750,1.96)};
\legend{TFR 2001, TFR 2016, Predicted TFR 2001, Predicted TFR 2016}
\end{axis}

% (h) UP-Bihar
\begin{axis}[panel, at={(509bp,-1369.3bp)}, width=395.6bp, height=220bp,
 xmin=0.1467, xmax=0.8426, ymin=0.83, ymax=6.155,
 xlabel style={at={(axis description cs:0.478,-0.176)}},
 legend style={at={(axis description cs:0.479,-0.215)}}]
\addplot[s01] coordinates {
(0.158,5.43)(0.162,5.07)(0.175,5.39)(0.188,5.02)(0.205,5.01)(0.209,5.27)(0.211,5.23)(0.223,5.07)(0.226,4.73)(0.230,5.10)(0.233,4.89)(0.238,4.99)(0.254,4.97)(0.262,4.73)(0.263,5.05)(0.269,4.93)(0.274,5.13)(0.277,5.09)(0.279,4.85)(0.282,4.56)(0.283,4.69)(0.286,4.78)(0.291,4.89)(0.295,4.52)(0.298,4.83)(0.301,4.65)(0.307,4.94)(0.310,4.77)(0.313,4.44)(0.314,4.28)(0.318,4.65)(0.321,4.70)(0.324,5.01)(0.328,5.01)(0.330,4.77)(0.332,4.28)(0.333,4.16)(0.334,4.83)(0.338,5.09)(0.339,4.48)(0.342,4.20)(0.345,4.04)(0.348,4.69)(0.348,4.40)(0.354,4.52)(0.357,4.24)(0.360,4.40)(0.362,4.69)(0.365,4.00)(0.368,4.78)(0.371,4.56)(0.373,3.86)(0.374,4.69)(0.376,4.24)(0.379,4.70)(0.383,4.30)(0.395,4.52)(0.403,4.60)(0.406,4.06)(0.410,3.76)(0.412,4.32)(0.415,3.92)(0.446,4.30)(0.461,4.24)(0.462,4.12)(0.495,3.34)(0.500,3.56)(0.503,3.61)(0.257,4.77)(0.304,4.60)(0.327,4.56)(0.357,4.93)
};
\addplot[s16] coordinates {
(0.292,4.44)(0.292,3.92)(0.295,4.02)(0.307,4.00)(0.315,4.30)(0.318,4.65)(0.330,3.48)(0.333,4.08)(0.336,3.64)(0.342,3.88)(0.345,3.60)(0.348,3.40)(0.351,3.48)(0.352,3.72)(0.357,3.92)(0.358,3.60)(0.361,3.27)(0.365,3.80)(0.368,3.60)(0.371,3.64)(0.374,3.84)(0.375,2.87)(0.377,3.48)(0.380,3.23)(0.383,2.81)(0.385,3.15)(0.389,2.99)(0.391,3.64)(0.393,3.41)(0.395,3.15)(0.398,2.99)(0.403,2.55)(0.406,3.31)(0.408,3.62)(0.409,2.87)(0.412,2.83)(0.415,3.07)(0.418,2.71)(0.421,2.87)(0.424,2.83)(0.427,2.47)(0.428,3.33)(0.432,3.31)(0.433,2.71)(0.434,2.31)(0.436,3.17)(0.439,2.75)(0.440,2.59)(0.443,3.23)(0.444,2.90)(0.446,2.06)(0.447,2.41)(0.449,2.67)(0.450,2.51)(0.453,3.15)(0.455,2.91)(0.456,2.47)(0.459,2.71)(0.462,2.99)(0.465,2.47)(0.467,3.03)(0.469,2.71)(0.471,2.87)(0.474,2.43)(0.477,2.95)(0.480,2.79)(0.485,2.99)(0.488,2.81)(0.502,3.03)(0.509,2.41)(0.512,2.67)(0.525,2.12)(0.527,2.83)(0.547,2.31)(0.570,2.44)(0.586,1.70)(0.616,1.64)(0.640,2.49)(0.673,2.65)
};
\addplot[p01] coordinates {(0.158,5.31)(0.198,5.09)(0.228,4.93)(0.257,4.77)(0.286,4.60)(0.315,4.48)(0.345,4.35)(0.374,4.19)(0.403,4.00)(0.433,3.88)(0.462,3.77)(0.503,3.62)};
\addplot[p16] coordinates {(0.293,4.30)(0.315,4.04)(0.345,3.64)(0.374,3.31)(0.403,2.99)(0.433,2.75)(0.462,2.55)(0.491,2.43)(0.521,2.33)(0.550,2.28)(0.579,2.27)(0.609,2.27)(0.638,2.31)(0.673,2.41)};
\legend{TFR 2001, TFR 2016, Predicted TFR 2001, Predicted TFR 2016}
\end{axis}
\end{tikzpicture}
\end{document}
